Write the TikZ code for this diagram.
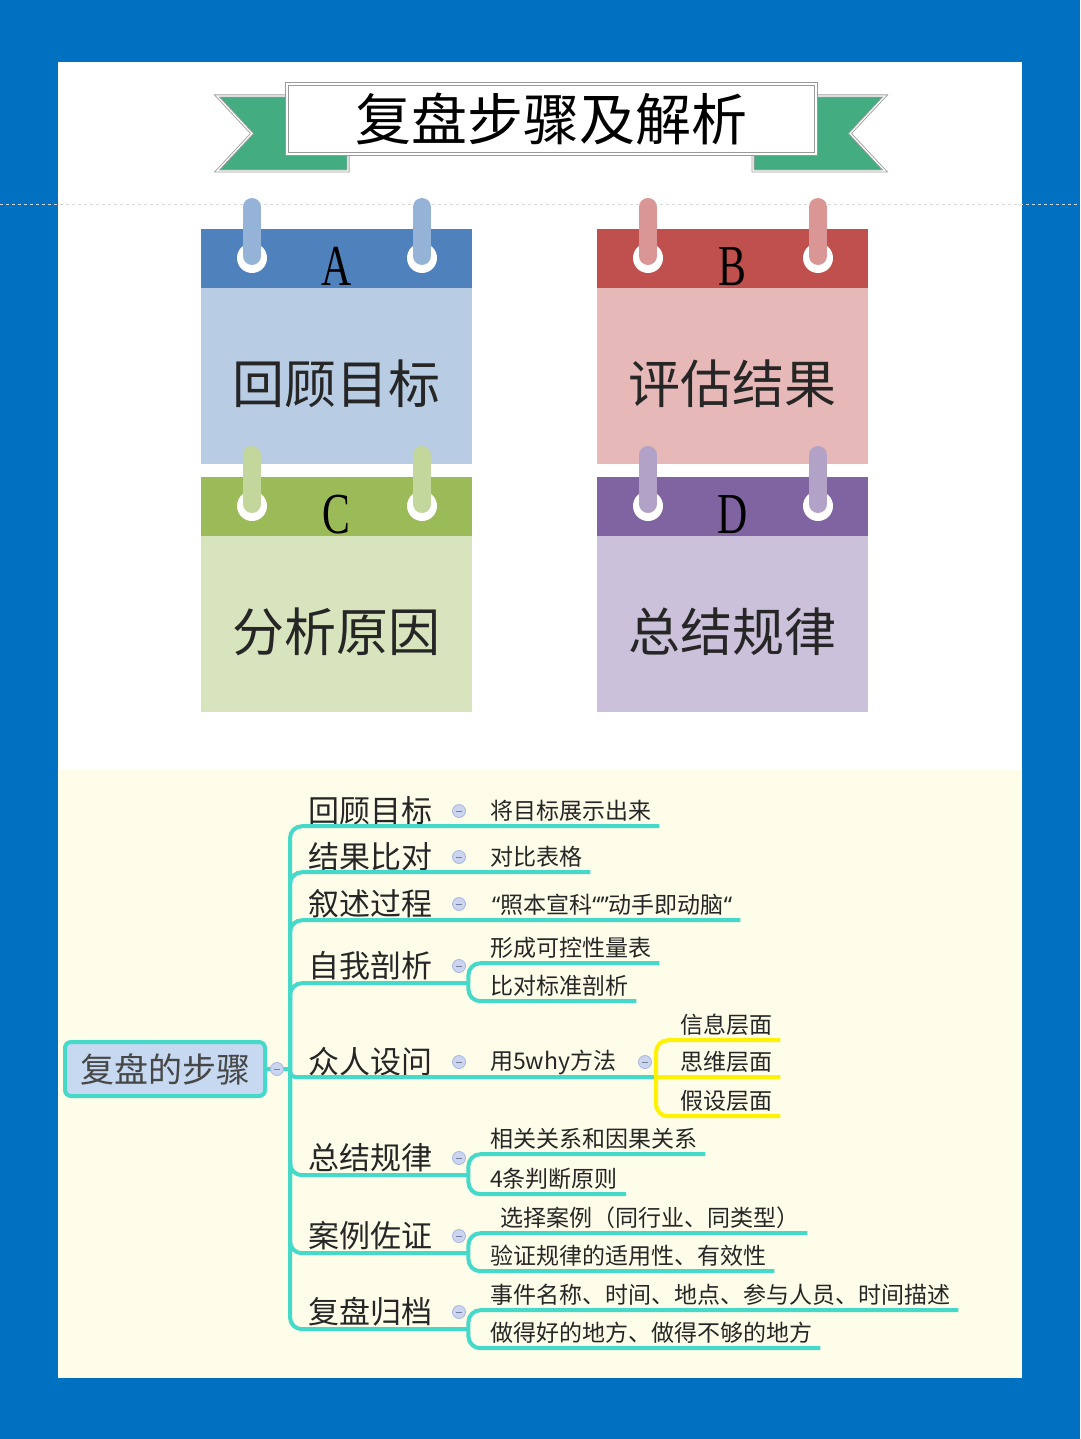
\documentclass[tikz,border=0pt]{standalone}
\usepackage{fontspec}
\setmainfont{Noto Sans CJK SC}
\newfontfamily\lettfont[FakeStretch=0.72]{Liberation Serif}
\newfontfamily\qfont{Noto Sans}
\usetikzlibrary{positioning,calc}
\definecolor{bgblue}{HTML}{0070C0}
\definecolor{cream}{HTML}{FEFDE9}
\definecolor{ribgreen}{HTML}{43AC80}
\definecolor{aHd}{HTML}{4F81BD}\definecolor{aBd}{HTML}{B8CCE4}\definecolor{aRd}{HTML}{95B3D7}
\definecolor{bHd}{HTML}{C0504D}\definecolor{bBd}{HTML}{E6B9B8}\definecolor{bRd}{HTML}{D99694}
\definecolor{cHd}{HTML}{9BBB59}\definecolor{cBd}{HTML}{D7E4BD}\definecolor{cRd}{HTML}{C3D69B}
\definecolor{dHd}{HTML}{8064A2}\definecolor{dBd}{HTML}{CCC1DA}\definecolor{dRd}{HTML}{B3A2C7}
\definecolor{turq}{HTML}{45D9C9}
\definecolor{yel}{HTML}{FFF200}
\definecolor{ink}{HTML}{262626}
\definecolor{rootf}{HTML}{C6D9F1}
\definecolor{togf}{HTML}{CBD5F0}
\definecolor{togd}{HTML}{A8B6E0}
\newcommand{\cardring}[3]{%
  \fill[white] (#1,#2) circle (15);
  \draw[rod,draw=#3] (#1,#2-51) -- (#1,#2-2);}
\tikzset{
  hdr/.style={minimum width=271pt,minimum height=59pt,inner sep=0pt},
  bod/.style={minimum width=271pt,minimum height=176pt,inner sep=0pt},
  lett/.style={anchor=base,inner sep=0pt,font=\lettfont\fontsize{58}{60}\selectfont},
  ctext/.style={inner sep=0pt,text=ink,font=\fontsize{52}{56}\selectfont},
  rod/.style={line width=18pt,line cap=round},
  tail/.style={fill=ribgreen,draw=gray!75,line width=0.9pt,double=white,double distance=1.2pt},
  br/.style={draw=turq,line width=4pt,rounded corners=12pt},
  ybr/.style={br,draw=yel},
  lvl1/.style={anchor=west,minimum height=34pt,inner xsep=4pt,inner ysep=0pt,text=ink,font=\fontsize{31}{34}\selectfont},
  lvl2/.style={anchor=west,minimum height=30pt,inner xsep=8pt,inner ysep=0pt,text=ink,font=\fontsize{23}{26}\selectfont},
  tog/.style={circle,minimum size=13pt,inner sep=0pt,fill=togf,draw=togd,line width=0.8pt,
    path picture={\draw[togd!70!black,line width=1pt] ([xshift=-3pt]path picture bounding box.center) -- ([xshift=3pt]path picture bounding box.center);}},
}
\begin{document}
\begin{tikzpicture}[x=1pt,y=-1pt]
\useasboundingbox (0,0) rectangle (1080,1439);
\fill[bgblue] (0,0) rectangle (1080,1439);
\fill[white] (58,62) rectangle (1022,770);
\fill[cream] (58,770) rectangle (1022,1378);
\draw[dashed,gray!30,line width=0.6pt] (0,204) -- (1080,204);

% title ribbon
\draw[tail] (217,96) -- (348,96) -- (348,171) -- (217,171) -- (252,133.5) -- cycle;
\draw[tail] (885,96) -- (753,96) -- (753,171) -- (885,171) -- (850,133.5) -- cycle;
\node[fill=white,draw=gray!80,line width=1.2pt,double=white,double distance=1.5pt,minimum width=529pt,minimum height=70pt,
  inner sep=0pt,font=\fontsize{56}{60}\selectfont] (ttl) at (551.5,119) {复盘步骤及解析};

% cards
\node[hdr,fill=aHd] (ahd) at (336.5,258.5) {};
\node[bod,fill=aBd,below=0pt of ahd] (abd) {};
\node[hdr,fill=bHd] (bhd) at (732.5,258.5) {};
\node[bod,fill=bBd,below=0pt of bhd] (bbd) {};
\node[hdr,fill=cHd] (chd) at (336.5,506.5) {};
\node[bod,fill=cBd,below=0pt of chd] (cbd) {};
\node[hdr,fill=dHd] (dhd) at (732.5,506.5) {};
\node[bod,fill=dBd,below=0pt of dhd] (dbd) {};
\node[lett] (la) at ([yshift=3pt]ahd.south) {A};
\node[lett] (lb) at ([yshift=3pt]bhd.south) {B};
\node[lett] (lc) at ([yshift=3pt]chd.south) {C};
\node[lett] (ld) at ([yshift=3pt]dhd.south) {D};
\node[ctext] (ta) at ([yshift=-7pt]abd.center) {回顾目标};
\node[ctext] (tb) at ([yshift=-7pt]bbd.center) {评估结果};
\node[ctext] (tc) at ([yshift=-7pt]cbd.center) {分析原因};
\node[ctext] (td) at ([yshift=-7pt]dbd.center) {总结规律};
\cardring{252}{258}{aRd}\cardring{422}{258}{aRd}
\cardring{648}{258}{bRd}\cardring{818}{258}{bRd}
\cardring{252}{506}{cRd}\cardring{422}{506}{cRd}
\cardring{648}{506}{dRd}\cardring{818}{506}{dRd}

% mind map
\coordinate (hub) at (290,1069);
\node[lvl1] (m1) at (304,811) {回顾目标};
\node[lvl1] (m2) at (304,857) {结果比对};
\node[lvl1] (m3) at (304,904) {叙述过程};
\node[lvl1] (m4) at (304,966) {自我剖析};
\node[lvl1] (m5) at (304,1062) {众人设问};
\node[lvl1] (m6) at (304,1158) {总结规律};
\node[lvl1] (m7) at (304,1236) {案例佐证};
\node[lvl1] (m8) at (304,1312) {复盘归档};
\coordinate (j4) at ([xshift=32pt]m4.south east);
\coordinate (j6) at ([xshift=32pt]m6.south east);
\coordinate (j7) at ([xshift=32pt]m7.south east);
\coordinate (j8) at ([xshift=32pt]m8.south east);

\node[lvl2] (c1) at (482,811) {将目标展示出来};
\node[lvl2] (c2) at (482,857) {对比表格};
\node[lvl2] (c3) at (484,905) {{\qfont“}照本宣科{\qfont“”}动手即动脑{\qfont“}};
\node[lvl2] (c4a) at (482,948) {形成可控性量表};
\node[lvl2] (c4b) at (482,986) {比对标准剖析};
\node[lvl2] (c5) at (482,1062) {用5why方法};
\node[lvl2] (y1) at (672,1025) {信息层面};
\node[lvl2] (y2) at (672,1062) {思维层面};
\node[lvl2] (y3) at (672,1101) {假设层面};
\node[lvl2] (c6a) at (482,1139) {相关关系和因果关系};
\node[lvl2] (c6b) at (482,1179) {4条判断原则};
\node[lvl2] (c7a) at (492,1218) {选择案例（同行业、同类型）};
\node[lvl2] (c7b) at (482,1256) {验证规律的适用性、有效性};
\node[lvl2] (c8a) at (482,1295) {事件名称、时间、地点、参与人员、时间描述};
\node[lvl2] (c8b) at (482,1333) {做得好的地方、做得不够的地方};
\coordinate (yj) at (656,1077);

\draw[br] (hub) |- (c1.south east);
\draw[br] (hub) |- (c2.south east);
\draw[br] (hub) |- (c3.south east);
\draw[br] (hub) |- (j4);
\draw[br] (j4) |- (c4a.south east);
\draw[br] (j4) |- (c4b.south east);
\draw[br,rounded corners=5pt] (hub) |- (yj);
\draw[ybr] (yj) |- (y1.south east);
\draw[ybr] (yj) -- (y2.south east);
\draw[ybr] (yj) |- (y3.south east);
\draw[br] (hub) |- (j6);
\draw[br] (j6) |- (c6a.south east);
\draw[br] (j6) |- (c6b.south east);
\draw[br] (hub) |- (j7);
\draw[br] (j7) |- (c7a.south east);
\draw[br] (j7) |- (c7b.south east);
\draw[br] (hub) |- (j8);
\draw[br] (j8) |- (c8a.south east);
\draw[br] (j8) |- (c8b.south east);

\node[draw=turq,line width=4pt,rounded corners=6pt,fill=rootf,minimum width=200pt,minimum height=54pt,
  inner sep=0pt,text=ink!85,font=\fontsize{34}{36}\selectfont] (root) at (165,1069) {复盘的步骤};
\draw[br] (root.east) -- (hub);
\node[tog] (rt) at (277,1069) {};
\node[tog] (t1) at (459,811) {};
\node[tog] (t2) at (459,857) {};
\node[tog] (t3) at (459,904) {};
\node[tog] (t4) at (459,966) {};
\node[tog] (t5) at (459,1062) {};
\node[tog] (t5b) at (645,1062) {};
\node[tog] (t6) at (459,1158) {};
\node[tog] (t7) at (459,1236) {};
\node[tog] (t8) at (459,1312) {};
\end{tikzpicture}
\end{document}
